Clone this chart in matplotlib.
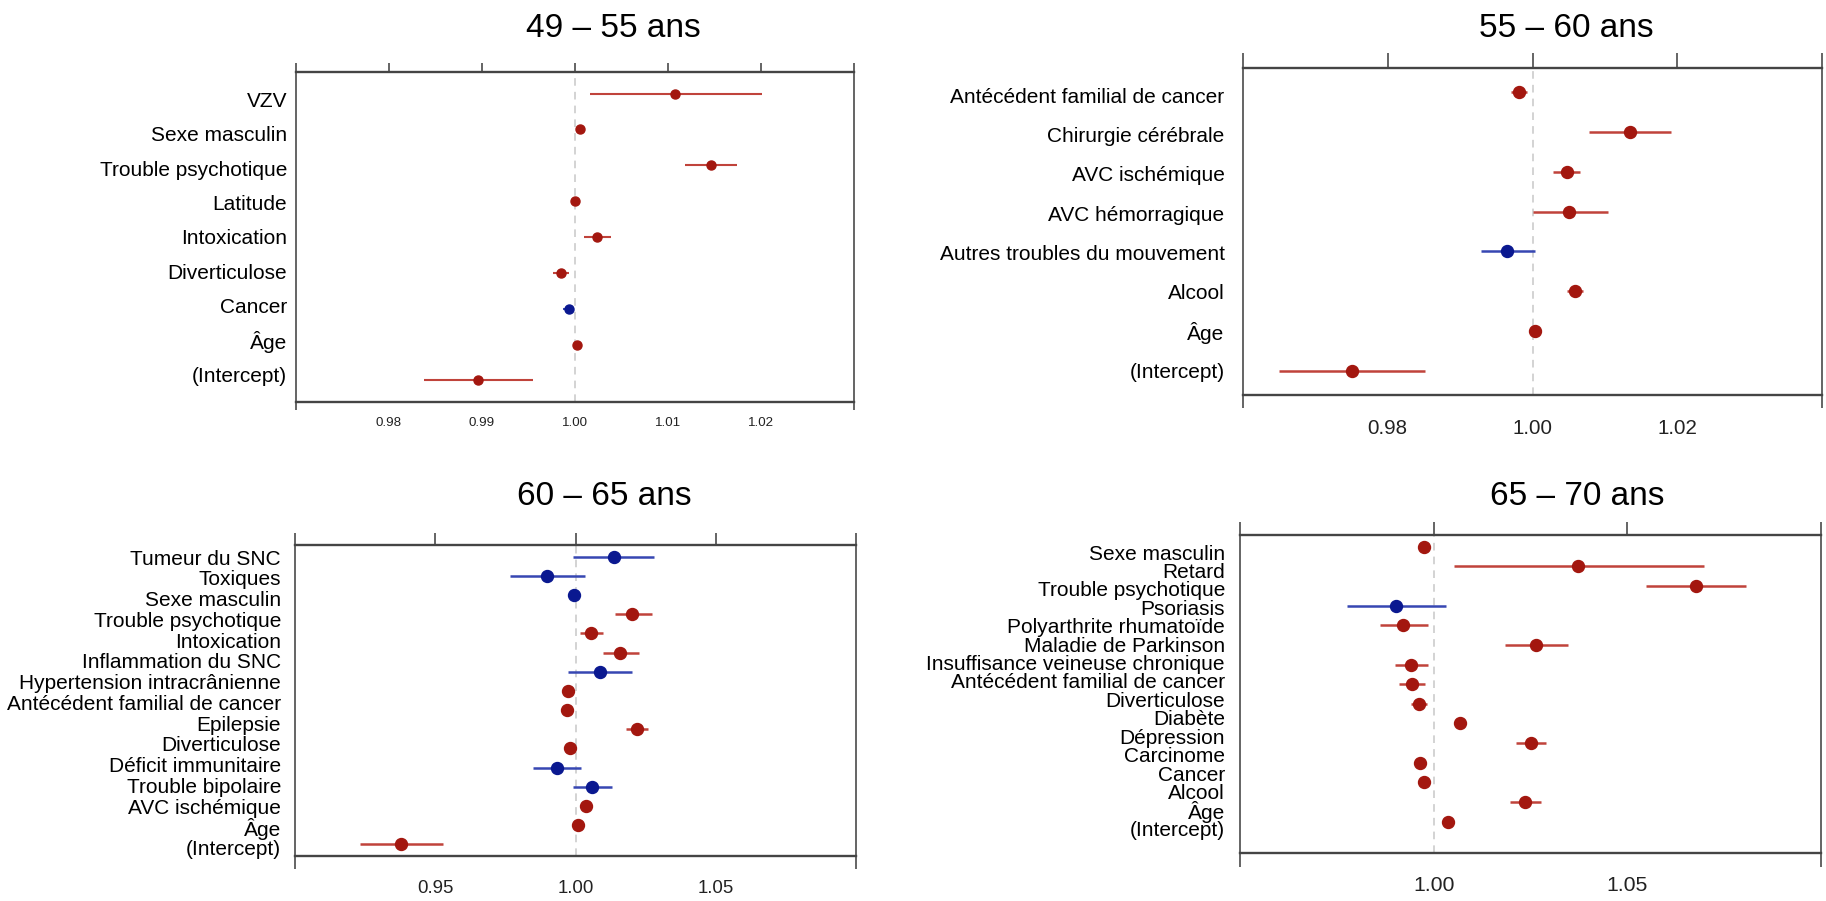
import numpy as np
import matplotlib
matplotlib.use('Agg')
from matplotlib import pyplot as plt
from matplotlib.ticker import FixedLocator

plt.rcParams['font.family'] = ['Liberation Sans', 'DejaVu Sans']

RED = '#a3170f'
RED_LINE = '#c0433b'
BLUE = '#0a1890'
BLUE_LINE = '#3747b2'
AXIS_COL = '#3a3a3a'

# 49 - 55 ans
labels_1 = ['VZV', 'Sexe masculin', 'Trouble psychotique', 'Latitude', 'Intoxication',
            'Diverticulose', 'Cancer', 'Âge', '(Intercept)']
est_1 = [1.0108, 1.0005, 1.0146, 1.0000, 1.0024, 0.9985, 0.9994, 1.0002, 0.9896]
low_1 = [1.0016, 1.0004, 1.0118, 0.9999, 1.0010, 0.9976, 0.9987, 1.0001, 0.9838]
high_1 = [1.0201, 1.0006, 1.0174, 1.0001, 1.0039, 0.9994, 0.9999, 1.0003, 0.9955]
sig_1 = ['r', 'r', 'r', 'r', 'r', 'r', 'b', 'r', 'r']

# 55 - 60 ans
labels_2 = ['Antécédent familial de cancer', 'Chirurgie cérébrale', 'AVC ischémique',
            'AVC hémorragique', 'Autres troubles du mouvement', 'Alcool', 'Âge', '(Intercept)']
est_2 = [0.9981, 1.0135, 1.0047, 1.0051, 0.9965, 1.0059, 1.0004, 0.9751]
low_2 = [0.9970, 1.0078, 1.0028, 1.0000, 0.9929, 1.0047, 1.0002, 0.9650]
high_2 = [0.9992, 1.0191, 1.0065, 1.0104, 1.0004, 1.0070, 1.0006, 0.9852]
sig_2 = ['r', 'r', 'r', 'r', 'b', 'r', 'r', 'r']

# 60 - 65 ans (16 points, 15 labels in the original)
labels_3 = ['Tumeur du SNC', 'Toxiques', 'Sexe masculin', 'Trouble psychotique', 'Intoxication',
            'Inflammation du SNC', 'Hypertension intracrânienne', 'Antécédent familial de cancer',
            'Epilepsie', 'Diverticulose', 'Déficit immunitaire', 'Trouble bipolaire',
            'AVC ischémique', 'Âge', '(Intercept)']
est_3 = [1.0136, 0.9899, 0.9994, 1.0203, 1.0055, 1.0160, 1.0088, 0.9975,
         0.9968, 1.0220, 0.9982, 0.9934, 1.0060, 1.0039, 1.0010, 0.9377]
low_3 = [0.9992, 0.9766, 0.9990, 1.0140, 1.0016, 1.0097, 0.9975, 0.9971,
         0.9964, 1.0181, 0.9978, 0.9848, 0.9990, 1.0035, 1.0006, 0.9231]
high_3 = [1.0281, 1.0033, 0.9998, 1.0273, 1.0099, 1.0226, 1.0201, 0.9979,
          0.9972, 1.0259, 0.9986, 1.0021, 1.0131, 1.0043, 1.0014, 0.9527]
sig_3 = ['b', 'b', 'b', 'r', 'r', 'r', 'b', 'r', 'r', 'r', 'r', 'b', 'b', 'r', 'r', 'r']

# 65 - 70 ans (16 labels, intercept not drawn)
labels_4 = ['Sexe masculin', 'Retard', 'Trouble psychotique', 'Psoriasis', 'Polyarthrite rhumatoïde',
            'Maladie de Parkinson', 'Insuffisance veineuse chronique', 'Antécédent familial de cancer',
            'Diverticulose', 'Diabète', 'Dépression', 'Carcinome', 'Cancer', 'Alcool', 'Âge',
            '(Intercept)']
est_4 = [0.9974, 1.0372, 1.0677, 0.9902, 0.9922, 1.0265, 0.9942, 0.9943,
         0.9963, 1.0069, 1.0251, 0.9965, 0.9974, 1.0237, 1.0038]
low_4 = [0.9970, 1.0052, 1.0549, 0.9775, 0.9861, 1.0185, 0.9899, 0.9911,
         0.9942, 1.0065, 1.0213, 0.9961, 0.9970, 1.0197, 1.0034]
high_4 = [0.9978, 1.0699, 1.0807, 1.0032, 0.9985, 1.0347, 0.9985, 0.9977,
          0.9983, 1.0073, 1.0291, 0.9969, 0.9978, 1.0277, 1.0042]
sig_4 = ['r', 'r', 'r', 'b', 'r', 'r', 'r', 'r', 'r', 'r', 'r', 'r', 'r', 'r', 'r']

W, H = 1826, 901
fig = plt.figure(figsize=(W / 100, H / 100), dpi=100)


def draw_panel(box, title, title_x, title_base, labels, est, low, high, sig, nrow,
               xticks, lab_range, ms, lw, ticklen, endlen, xlab_size, xlab_pad, ylab_pad):
    x0, y0, x1, y1 = box  # pixels, top-left origin
    ax = fig.add_axes([x0 / W, 1 - y1 / H, (x1 - x0) / W, (y1 - y0) / H])
    ypos = np.arange(nrow)[::-1][:len(est)]
    ax.axvline(1.0, color='#c8c8c8', lw=1.1, ls=(0, (5, 4)), zorder=0)
    for i in range(len(est)):
        lc = RED_LINE if sig[i] == 'r' else BLUE_LINE
        pc = RED if sig[i] == 'r' else BLUE
        ax.plot([low[i], high[i]], [ypos[i], ypos[i]], color=lc, lw=lw, solid_capstyle='butt', zorder=2)
        ax.plot(est[i], ypos[i], 'o', color=pc, ms=ms, mec=pc, zorder=3)
    ax.set_xlim(xticks[0], xticks[-1])
    ax.set_ylim(-0.6, nrow - 1 + 0.6)

    ax.set_xticks(xticks)
    ax.set_xticklabels([''] + ['%.2f' % v for v in xticks[1:-1]] + [''])
    ax.xaxis.set_minor_locator(FixedLocator([xticks[0], xticks[-1]]))
    ax.xaxis.remove_overlapping_locs = False
    ax.tick_params(axis='x', which='major', bottom=False, top=True, labelbottom=True,
                   labeltop=False, direction='out', length=ticklen, width=1.1,
                   color=AXIS_COL, labelsize=xlab_size, pad=xlab_pad, labelcolor='#222222')
    ax.tick_params(axis='x', which='minor', bottom=True, top=False, direction='out',
                   length=endlen, width=1.1, color=AXIS_COL)

    lab_y = np.linspace(lab_range[1], lab_range[0], len(labels))
    ax.set_yticks(lab_y)
    ax.set_yticklabels(labels)
    ax.tick_params(axis='y', length=0, pad=ylab_pad, labelsize=15)

    for s in ['top', 'bottom']:
        ax.spines[s].set_linewidth(1.7)
        ax.spines[s].set_color('#444444')
    for s in ['left', 'right']:
        ax.spines[s].set_linewidth(1.1)
        ax.spines[s].set_color(AXIS_COL)

    fig.text(title_x / W, 1 - title_base / H, title, ha='center', va='baseline', fontsize=24)
    return ax


draw_panel((296, 72, 854, 402), '49 – 55 ans', 613, 37, labels_1, est_1, low_1, high_1, sig_1, 9,
           [0.97, 0.98, 0.99, 1.00, 1.01, 1.02, 1.03], (0.17, 7.83),
           6.5, 1.5, 6.5, 6, 9.6, 4, 6.5)

draw_panel((1243, 68, 1822, 395), '55 – 60 ans', 1566, 37, labels_2, est_2, low_2, high_2, sig_2, 8,
           [0.96, 0.98, 1.00, 1.02, 1.04], (0.02, 6.92),
           8.6, 1.8, 10.8, 9.4, 14.8, 6.3, 13.3)

draw_panel((295, 545, 856, 856), '60 – 65 ans', 604, 505, labels_3, est_3, low_3, high_3, sig_3, 16,
           [0.90, 0.95, 1.00, 1.05, 1.10], (-0.16, 14.97),
           8.6, 1.8, 8.6, 9.4, 13.4, 8.5, 10)

draw_panel((1240, 535, 1821, 853), '65 – 70 ans', 1577, 505, labels_4, est_4, low_4, high_4, sig_4, 16,
           [0.95, 1.00, 1.05, 1.10], (0.66, 14.73),
           8.6, 1.8, 9.4, 10, 15.3, 7.5, 10.8)

fig.savefig('out.png', dpi=100)
